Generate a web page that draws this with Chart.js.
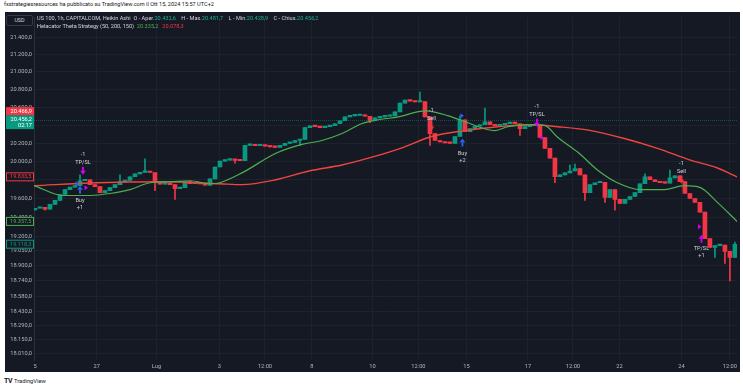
<!DOCTYPE html>
<html>
<head>
<meta charset="utf-8">
<script src="https://cdn.jsdelivr.net/npm/chart.js@4.4.1/dist/chart.umd.min.js"></script>
<style>
  body { margin: 0; background: #fff; width: 743px; height: 390px; overflow: hidden; position: relative; font-family: Roboto, "Liberation Sans", sans-serif; }
  #credit { position: absolute; left: 4px; top: 1px; font-size: 5.6px; color: #131722; white-space: nowrap; }
  #panel { position: absolute; left: 5px; top: 12px; width: 735px; height: 360px; background: #151924; }
  #chart { position: absolute; left: 0; top: 0; }
  #usd { position: absolute; left: 1px; top: 3px; width: 25px; height: 9px; border: 1px solid #363a45; border-radius: 2px; font-size: 5.4px; color: #d1d4dc; text-align: center; line-height: 9px; background: #151924; }
  #legend { position: absolute; left: 32px; top: 2px; font-size: 5.6px; color: #d1d4dc; line-height: 8px; white-space: nowrap; }
  #legend .v { color: #22ab94; margin-right: 4px; }
  #legend .gr { color: #4caf50; margin-right: 4px; }
  #legend .rd { color: #f23645; }
  #logo { position: absolute; left: 4px; top: 377px; font-size: 5.8px; color: #131722; white-space: nowrap; }
  #logo b { font-size: 7px; letter-spacing: -0.5px; margin-right: 2px; }
</style>
</head>
<body>
<div id="credit">fxstrategiesresources ha pubblicato su TradingView.com il Ott 15, 2024 15:57 UTC+2</div>
<div id="panel">
  <canvas id="chart" width="735" height="360"></canvas>
  <div id="usd">USD</div>
  <div id="legend"></div>
</div>
<div id="logo"><b>TV</b>TradingView</div>
<script>
// Heikin Ashi closes, one candle every ~5 px (US 100, 1h)
const firstOpen = 19480;
const closes = [
  19497, 19507, 19486, 19538, 19580, 19643, 19696, 19722, 19738, 19791,
  19802, 19749, 19728, 19664, 19685, 19717, 19749, 19781, 19796, 19834,
  19865, 19881, 19887, 19880, 19770, 19754, 19765, 19749, 19706, 19717,
  19781, 19759, 19762, 19756, 19743, 19812, 19940, 20004, 20015, 20020,
  20012, 20008, 20176, 20180, 20172, 20175, 20168, 20160, 20155, 20176,
  20198, 20209, 20230, 20241, 20372, 20394, 20383, 20372, 20383, 20394,
  20416, 20449, 20493, 20504, 20508, 20515, 20499, 20449, 20482, 20493,
  20499, 20504, 20548, 20647, 20681, 20670, 20659, 20665, 20493, 20307,
  20230, 20214, 20203, 20198, 20274, 20460, 20329, 20361, 20388, 20405,
  20438, 20405, 20394, 20405, 20416, 20433, 20416, 20361, 20383, 20394,
  20398, 20263, 20144, 20036, 19834, 19855, 19876, 19897, 19924, 19855,
  19664, 19749, 19770, 19775, 19612, 19696, 19591, 19549, 19591, 19622,
  19664, 19759, 19834, 19802, 19781, 19770, 19766, 19823, 19844, 19781,
  19654, 19601, 19559, 19455, 19176, 19084, 19104, 19110, 19043, 18982,
  19118
];

// wick extremes that stick out of the bodies
const highIdx = [9, 17, 22, 77, 85, 90, 107, 108, 122, 127, 140];
const highVal = [19855, 19855, 20030, 20770, 20504, 20592, 19960, 19972, 19865, 19908, 19140];
const lowIdx = [2, 24, 28, 35, 40, 53, 67, 79, 97, 104, 110, 114, 116, 136, 138, 139];
const lowVal = [19476, 19685, 19591, 19738, 19983, 20176, 20427, 20176, 20285, 19770, 19580, 19559, 19476, 18982, 18920, 18740];

// moving averages (50 green, 200 red)
const maFastIdx = [-0.2, 5.6, 11, 15, 19, 23, 27, 31, 35, 37, 41.4, 48.2, 53.4, 57.4, 61.4, 65.3, 68.7, 72.7, 78.1, 82.7, 86, 92, 94.6, 99.2, 102, 104.6, 108.6, 112.5, 116.5, 121.1, 125.9, 129.9, 133.1, 136.5, 140.44];
const maFast = [19740, 19633, 19633, 19654, 19696, 19770, 19781, 19791, 19759, 19770, 19876, 20090, 20187, 20230, 20307, 20416, 20460, 20493, 20559, 20504, 20438, 20340, 20383, 20405, 20394, 20263, 20101, 19908, 19770, 19696, 19696, 19738, 19717, 19559, 19357];
const maSlowIdx = [-0.2, 12.4, 25.5, 36.9, 41.4, 48.2, 54.8, 61.4, 68.1, 73.7, 79.3, 86, 92.6, 99.2, 104.6, 111.2, 117.9, 124.5, 131.1, 136.5, 140.44];
const maSlow = [19738, 19770, 19781, 19759, 19749, 19802, 19897, 19962, 20058, 20155, 20274, 20340, 20383, 20405, 20383, 20340, 20252, 20144, 20015, 19929, 19833];

// time axis
const timeTickIdx = [0, 12.35, 24.3, 36.85, 46, 55.4, 67.5, 76.7, 86.3, 98.6, 107.6, 116.9, 129.3, 139];
const timeTickLabels = ['5', '27', 'Lug', '3', '12:00', '8', '10', '12:00', '15', '17', '12:00', '22', '24', '12:00'];

// price axis
const priceTicks = [18010, 18150, 18290, 18430, 18580, 18740, 18900, 19050, 19200, 19400, 19600, 19800, 20000, 20200, 20400, 20600, 20800, 21000, 21200, 21400];

// strategy signals
const sigIdx = [9, 9.6, 79.3, 85.5, 100.4, 129.3, 133.3];
const sigPrice = [19738, 19855, 20340, 20252, 20383, 19759, 19217];
const sigKind = ['buy', 'exitDown', 'sell', 'buy', 'exitDown', 'sell', 'exitUp'];
const sigText1 = ['Buy', '-1', '-1', 'Buy', '-1', '-1', 'TP/SL'];
const sigText2 = ['+1', 'TP/SL', 'Sell', '+2', 'TP/SL', 'Sell', '+1'];
const flagIdx = [8.4, 10.2, 85.4, 101.4, 132.9];
const flagPrice = [19759, 19717, 20504, 20263, 19300];
const flagKind = ['buy', 'exit', 'buy', 'exit', 'exit'];

// header / last values
const headerNames = ['O - Aper.', 'H - Max.', 'L - Min.', 'C - Chius.'];
const headerOHLC = [20432.6, 20481.7, 20428.9, 20456.2];
const headerMA = [20335.2, 20078.3];
const lastPrice = 20456.2;
const highPrice = 20466.9;
const countdown = '02:17';
const lastSlow = 19833.5;
const lastFast = 19357.5;
const lastClose = 19118.3;

const UP = '#089981', DOWN = '#f23645';
const BLUE = '#2962ff', MAGENTA = '#d500f9';

function fmt(v) {
  const parts = v.toFixed(1).split('.');
  return parts[0].replace(/\B(?=(\d{3})+(?!\d))/g, '.') + ',' + parts[1];
}

document.getElementById('legend').innerHTML =
  'US 100, 1h, CAPITALCOM, Heikin Ashi&nbsp; ' +
  headerNames.map((n, i) => n + '<span class="v">' + fmt(headerOHLC[i]) + '</span>').join(' ') +
  '<br>Helacator Theta Strategy (50, 200, 150)&nbsp; <span class="gr">' + fmt(headerMA[0]) +
  '</span><span class="rd">' + fmt(headerMA[1]) + '</span>';

const opens = closes.map((c, i) => i === 0 ? firstOpen : closes[i - 1]);
const colors = closes.map((c, i) => c >= opens[i] ? UP : DOWN);
const wickData = closes.map((c, i) => {
  let hi = Math.max(c, opens[i]), lo = Math.min(c, opens[i]);
  const h = highIdx.indexOf(i), l = lowIdx.indexOf(i);
  if (h >= 0) hi = Math.max(hi, highVal[h]);
  if (l >= 0) lo = Math.min(lo, lowVal[l]);
  return { x: i, y: [lo, hi] };
});
const bodyData = closes.map((c, i) => ({ x: i, y: [opens[i], c] }));

const FONT = { family: 'Roboto, "Liberation Sans", sans-serif', size: 5.7 };
const GRID = '#1e222d';

function arrow(ctx, x, tip, dir, color) {
  // dir = 1 points down, -1 points up
  ctx.fillStyle = color;
  ctx.beginPath();
  ctx.moveTo(x, tip);
  ctx.lineTo(x - 2.8, tip - dir * 4);
  ctx.lineTo(x + 2.8, tip - dir * 4);
  ctx.closePath();
  ctx.fill();
  const y0 = tip - dir * 4, y1 = tip - dir * 8;
  ctx.fillRect(x - 0.9, Math.min(y0, y1), 1.8, 4);
}

function box(ctx, left, top, w, h, fill, stroke) {
  ctx.fillStyle = fill;
  ctx.fillRect(left, top, w, h);
  if (stroke) {
    ctx.strokeStyle = stroke;
    ctx.lineWidth = 1;
    ctx.strokeRect(left + 0.5, top + 0.5, w - 1, h - 1);
  }
}

const overlay = {
  id: 'overlay',
  afterDatasetsDraw(chart) {
    const { ctx, chartArea: a, scales: { x, y } } = chart;
    ctx.save();
    // last price line
    const py = Math.round(y.getPixelForValue(lastPrice)) + 0.5;
    ctx.strokeStyle = 'rgba(8,153,129,0.45)';
    ctx.lineWidth = 1;
    ctx.setLineDash([1, 1]);
    ctx.beginPath(); ctx.moveTo(a.left, py); ctx.lineTo(a.right, py); ctx.stroke();
    ctx.setLineDash([]);

    // small flags
    flagIdx.forEach((fi, k) => {
      const fx = x.getPixelForValue(fi), fy = y.getPixelForValue(flagPrice[k]);
      ctx.fillStyle = flagKind[k] === 'buy' ? BLUE : MAGENTA;
      ctx.beginPath();
      ctx.moveTo(fx - 1.5, fy - 2.5); ctx.lineTo(fx + 2, fy); ctx.lineTo(fx - 1.5, fy + 2.5);
      ctx.closePath(); ctx.fill();
    });

    // signals
    ctx.font = '5.6px Roboto, "Liberation Sans", sans-serif';
    ctx.textAlign = 'center';
    ctx.textBaseline = 'middle';
    sigIdx.forEach((si, k) => {
      const sx = x.getPixelForValue(si), sy = y.getPixelForValue(sigPrice[k]);
      const kind = sigKind[k];
      let t1, t2;
      if (kind === 'buy') {
        arrow(ctx, sx, sy, -1, BLUE); t1 = sy + 15; t2 = sy + 22;
      } else if (kind === 'exitUp') {
        arrow(ctx, sx, sy, -1, MAGENTA); t1 = sy + 14; t2 = sy + 21;
      } else {
        arrow(ctx, sx, sy, 1, kind === 'sell' ? DOWN : MAGENTA); t1 = sy - 20; t2 = sy - 12;
      }
      ctx.fillStyle = '#d1d4dc';
      ctx.fillText(sigText1[k], sx, t1);
      ctx.fillText(sigText2[k], sx, t2);
    });
    ctx.restore();
  },
  afterDraw(chart) {
    const { ctx, scales: { y } } = chart;
    const w = y.right - 1;
    ctx.save();
    ctx.font = '5.6px Roboto, "Liberation Sans", sans-serif';
    ctx.textAlign = 'right';
    ctx.textBaseline = 'middle';
    // last price (teal, two lines) and high (red) just above it
    const py = y.getPixelForValue(lastPrice);
    box(ctx, 1, py - 5, w, 14, UP);
    ctx.fillStyle = '#ffffff';
    ctx.fillText(fmt(lastPrice), w - 1, py - 0.5);
    ctx.fillText(countdown, w - 1, py + 5.5);
    box(ctx, 1, py - 13, w, 8, DOWN);
    ctx.fillStyle = '#ffffff';
    ctx.fillText(fmt(highPrice), w - 1, py - 9);
    // outlined last values of the series
    [[lastSlow, DOWN], [lastFast, '#4caf50'], [lastClose, UP]].forEach(([v, c]) => {
      const vy = y.getPixelForValue(v);
      box(ctx, 1, vy - 4.5, w, 9, '#151924', c);
      ctx.fillStyle = c;
      ctx.fillText(fmt(v), w - 1.5, vy);
    });
    ctx.restore();
  }
};

new Chart(document.getElementById('chart'), {
  type: 'bar',
  data: {
    datasets: [
      { type: 'line', data: maFastIdx.map((v, i) => ({ x: v, y: maFast[i] })), borderColor: '#4caf50', borderWidth: 1.2, pointRadius: 0, cubicInterpolationMode: 'monotone', order: 0 },
      { type: 'line', data: maSlowIdx.map((v, i) => ({ x: v, y: maSlow[i] })), borderColor: '#f0453f', borderWidth: 1.4, pointRadius: 0, cubicInterpolationMode: 'monotone', order: 1 },
      { data: bodyData, backgroundColor: colors, barThickness: 4, minBarLength: 1.5, grouped: false, order: 2 },
      { data: wickData, backgroundColor: colors, barThickness: 1, grouped: false, order: 3 }
    ]
  },
  options: {
    responsive: false,
    animation: false,
    devicePixelRatio: 1,
    layout: { padding: 0 },
    plugins: { legend: { display: false }, tooltip: { enabled: false } },
    scales: {
      x: {
        type: 'linear',
        offset: false,
        min: -0.2,
        max: 140.44,
        grid: { color: GRID, drawTicks: false, offset: false },
        border: { display: false },
        ticks: {
          color: '#b2b5be', font: FONT, padding: 3, maxRotation: 0, autoSkip: false,
          callback: (v, i) => timeTickLabels[i]
        },
        afterBuildTicks: s => { s.ticks = timeTickIdx.map(v => ({ value: v })); },
        afterFit: s => { s.height = 12; }
      },
      y: {
        type: 'logarithmic',
        position: 'left',
        min: 17949,
        max: 21634,
        grid: { color: GRID, drawTicks: false },
        border: { color: '#2a2e39' },
        ticks: {
          color: '#b2b5be', font: FONT, padding: 2, autoSkip: false,
          callback: v => fmt(v)
        },
        afterBuildTicks: s => { s.ticks = priceTicks.map(v => ({ value: v })); },
        afterFit: s => { s.width = 29; }
      }
    }
  },
  plugins: [overlay]
});
</script>
</body>
</html>
